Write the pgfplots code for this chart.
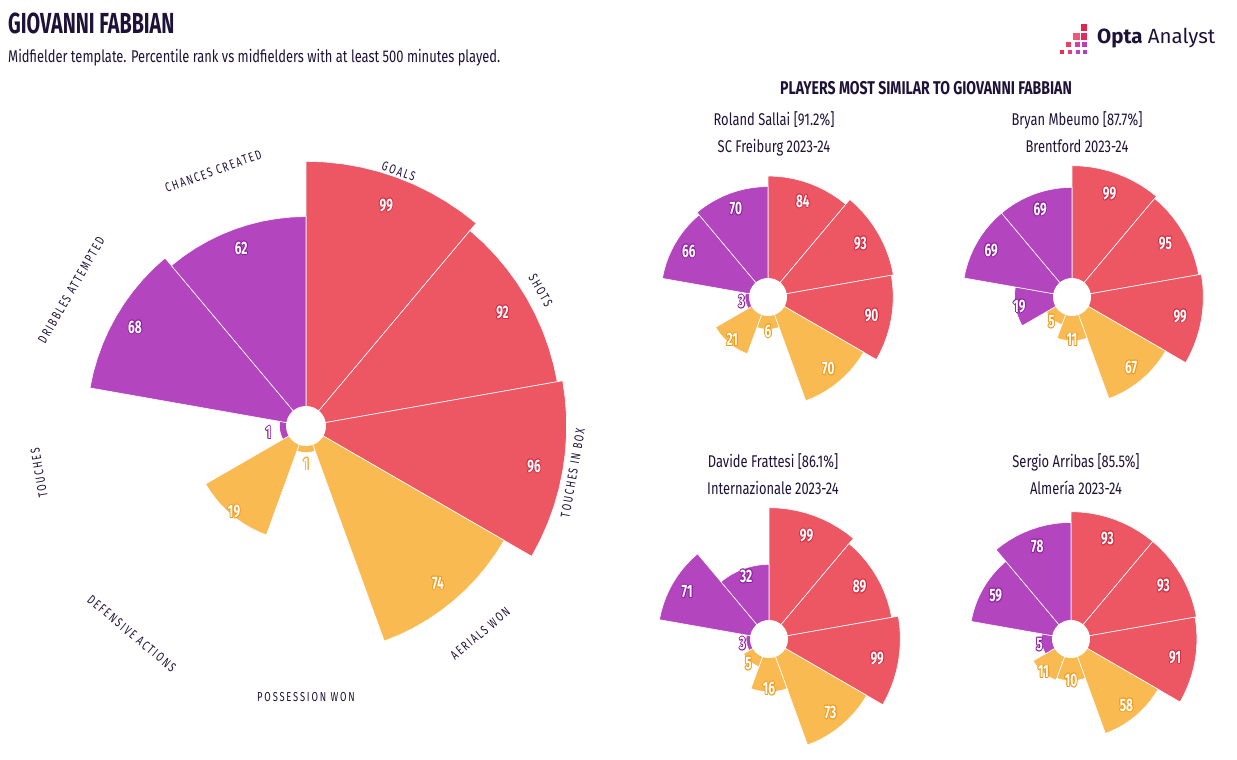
\documentclass[border=0pt]{standalone}
\usepackage{fontspec}
\setmainfont{Fira Sans}[FakeStretch=0.76]
\newfontfamily\logofont{Fira Sans}
\newfontfamily\titlefont{Fira Sans}[FakeStretch=0.68]
\newfontfamily\numfam{Fira Sans}[FakeStretch=0.66]
\newfontfamily\catfont{Fira Sans}[FakeStretch=0.72,LetterSpace=14]
\usepackage{pgfplots}
\usepackage{pgfplotstable}
\pgfplotsset{compat=1.18}

\definecolor{cR}{HTML}{EC5763}
\definecolor{cY}{HTML}{FABA52}
\definecolor{cP}{HTML}{B345BF}
\definecolor{cRd}{HTML}{D42A40}
\definecolor{cYd}{HTML}{F29A18}
\definecolor{cPd}{HTML}{8E1FA0}
\definecolor{navy}{HTML}{1E1238}

% percentile ranks, clockwise from 12 o'clock
\pgfplotstableread{
metric fab sal mbe fra arr col
Goals 99 84 99 99 93 cR
Shots 92 93 95 89 93 cR
Box 96 90 99 99 91 cR
Aerials 74 70 67 73 58 cY
Possession 1 6 11 16 10 cY
Defensive 19 21 5 5 11 cY
Touches 1 3 19 3 5 cP
Dribbles 68 66 69 71 59 cP
Chances 62 70 69 32 78 cP
}\pizzadata

\newcommand\numfont{\numfam\fontsize{18}{18}\selectfont\bfseries}

% #1 scale k, #2 index, #3 value, #4 colour
\newcommand\pzwedge[4]{%
  \pgfmathsetmacro\rr{#1*sqrt(#3)}%
  \gdef\pts{(0,0)}%
  \foreach \j in {0,...,10}{%
    \pgfmathsetmacro\wa{90-40*#2-4*\j}%
    \pgfmathsetmacro\xx{\rr*cos(\wa)}%
    \pgfmathsetmacro\yy{\rr*sin(\wa)}%
    \xdef\pts{\pts (\xx,\yy)}%
  }%
  \edef\tmp{\noexpand\addplot[fill=#4, draw=white, line width=0.6pt, line join=round] coordinates {\pts (0,0)};}%
  \tmp
}
% #1 index, #2 value, #3 a, #4 b, #5 colour
\newcommand\pzlabel[5]{%
  \pgfmathsetmacro\lrad{#3+#4*sqrt(#2)}%
  \pgfmathsetmacro\lang{70-40*#1}%
  \pgfmathsetmacro\lx{\lrad*cos(\lang)}%
  \pgfmathsetmacro\ly{\lrad*sin(\lang)}%
  \foreach \ox/\oy in {0.9/0, -0.9/0, 0/0.9, 0/-0.9, 0.64/0.64, -0.64/0.64, 0.64/-0.64, -0.64/-0.64}{%
    \edef\tmp{\noexpand\node[text=#5d, font=\noexpand\numfont, inner sep=0pt, xshift=\ox pt, yshift=\oy pt] at (axis cs:\lx,\ly) {#2};}%
    \tmp
  }%
  \edef\tmp{\noexpand\node[text=white, font=\noexpand\numfont, inner sep=0pt] at (axis cs:\lx,\ly) {#2};}%
  \tmp
}
% #1 column, #2 k, #3 a, #4 b, #5 hole radius
\newcommand\pizza[5]{%
  \foreach \i in {0,...,8}{%
    \pgfplotstablegetelem{\i}{#1}\of\pizzadata \let\vv\pgfplotsretval
    \pgfplotstablegetelem{\i}{col}\of\pizzadata \let\cc\pgfplotsretval
    \pzwedge{#2}{\i}{\vv}{\cc}%
  }%
  \fill[white] (axis cs:0,0) circle[radius=#5pt];
  \foreach \i in {0,...,8}{%
    \pgfplotstablegetelem{\i}{#1}\of\pizzadata \let\vv\pgfplotsretval
    \pgfplotstablegetelem{\i}{col}\of\pizzadata \let\cc\pgfplotsretval
    \pzlabel{\i}{\vv}{#3}{#4}{\cc}%
  }%
}

\pgfplotsset{pz/.style={hide axis, x=1pt, y=1pt, anchor=origin, clip=false}}

\begin{document}
\begin{tikzpicture}
\path[use as bounding box, fill=white] (0pt,0pt) rectangle (1237pt,-760pt);

\begin{axis}[pz, xmin=-300, xmax=300, ymin=-300, ymax=300, at={(306pt,-426pt)}]
\pizza{fab}{26.6}{16}{22}{20}
\end{axis}
\begin{axis}[pz, xmin=-150, xmax=150, ymin=-150, ymax=150, at={(768pt,-297pt)}]
\pizza{sal}{13.2}{9.4}{10.1}{19}
\end{axis}
\begin{axis}[pz, xmin=-150, xmax=150, ymin=-150, ymax=150, at={(1072pt,-297pt)}]
\pizza{mbe}{13.2}{9.4}{10.1}{19}
\end{axis}
\begin{axis}[pz, xmin=-150, xmax=150, ymin=-150, ymax=150, at={(769pt,-639pt)}]
\pizza{fra}{13.2}{9.4}{10.1}{19}
\end{axis}
\begin{axis}[pz, xmin=-150, xmax=150, ymin=-150, ymax=150, at={(1071pt,-639pt)}]
\pizza{arr}{13.2}{9.4}{10.1}{19}
\end{axis}

\begin{scope}[shift={(306pt,-426pt)}]
\foreach \ang/\rot/\txt in {70/-20/GOALS, 30/-60/SHOTS, -10/80/TOUCHES IN BOX, -50/40/AERIALS WON, -90/0/POSSESSION WON, -130/-40/DEFENSIVE ACTIONS, -170/100/TOUCHES, 150/60/DRIBBLES ATTEMPTED, 110/20/CHANCES CREATED}
  \node[rotate=\rot, font=\catfont\fontsize{13}{13}\selectfont, text=navy, inner sep=0pt] at (\ang:271pt) {\txt};
\end{scope}

\begin{scope}[x=1pt, y=1pt]
\node[anchor=base west, font=\titlefont\fontsize{29}{29}\selectfont\bfseries, text=navy, inner sep=0pt] at (8,-34) {GIOVANNI FABBIAN};
\node[anchor=base west, font=\fontsize{17}{17}\selectfont, text=navy, inner sep=0pt] at (8,-63) {Midfielder template. Percentile rank vs midfielders with at least 500 minutes played.};
\node[anchor=base, font=\fontsize{18.5}{18.5}\selectfont\bfseries, text=navy, inner sep=0pt] at (926,-94) {PLAYERS MOST SIMILAR TO GIOVANNI FABBIAN};
\foreach \cx/\cy/\la/\lb in {774/125/Roland Sallai [91.2\%]/SC Freiburg 2023-24, 1077/125/Bryan Mbeumo [87.7\%]/Brentford 2023-24, 773/467/Davide Frattesi [86.1\%]/Internazionale 2023-24, 1076/467/Sergio Arribas [85.5\%]/Almería 2023-24}{
  \node[anchor=base, font=\fontsize{17}{17}\selectfont, text=navy, inner sep=0pt] at (\cx,-\cy) {\la};
  \node[anchor=base, font=\fontsize{17}{17}\selectfont, text=navy, inner sep=0pt] at (\cx,-\cy-27) {\lb};
}
% logo
\fill[fill={rgb,255:red,232;green,35;blue,75}] (1080.7,-24) rectangle ++(6.6,-6.6);
\fill[fill={rgb,255:red,242;green,85;blue,122}] (1073.3,-33.3) rectangle ++(6.6,-6.6);
\fill[fill={rgb,255:red,227;green,42;blue,92}] (1080.7,-33.3) rectangle ++(6.6,-6.6);
\fill[fill={rgb,255:red,238;green,62;blue,98}] (1066,-41.7) rectangle ++(5.2,-5.2);
\fill[fill={rgb,255:red,216;green,64;blue,160}] (1075,-41.7) rectangle ++(5.2,-5.2);
\fill[fill={rgb,255:red,194;green,58;blue,192}] (1082.2,-41.7) rectangle ++(5.2,-5.2);
\fill[fill={rgb,255:red,232;green,48;blue,79}] (1059.5,-50) rectangle ++(4,-4);
\fill[fill={rgb,255:red,224;green,64;blue,127}] (1068,-50) rectangle ++(4,-4);
\fill[fill={rgb,255:red,192;green,64;blue,200}] (1076,-50) rectangle ++(4,-4);
\fill[fill={rgb,255:red,167;green,59;blue,212}] (1083.3,-50) rectangle ++(4,-4);
\node[anchor=base west, font=\logofont\fontsize{20.5}{20.5}\selectfont, text=navy, inner sep=0pt] at (1097,-44) {\textbf{Opta} Analyst};
\end{scope}
\end{tikzpicture}
\end{document}
